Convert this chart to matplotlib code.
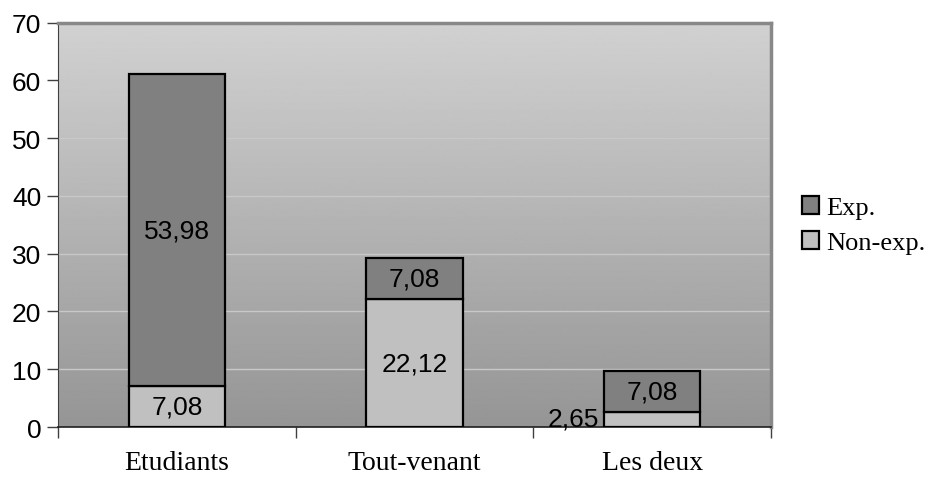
import numpy as np
import matplotlib.pyplot as plt

categories = ['Etudiants', 'Tout-venant', 'Les deux']
non_exp = [7.08, 22.12, 2.65]
exp = [53.98, 7.08, 7.08]
non_exp_labels = ['7,08', '22,12', '2,65']
exp_labels = ['53,98', '7,08', '7,08']
yticks = [0, 10, 20, 30, 40, 50, 60, 70]

fig = plt.figure(figsize=(9.29, 4.81), dpi=100)
ax = fig.add_axes([58 / 929, 1 - 428 / 481, (771 - 58) / 929, (428 - 23.5) / 481])

x = np.arange(len(categories))
ax.set_xlim(-0.5, 2.5)
ax.set_ylim(0, 70)

# gradient background, light at top, darker at bottom
grad = np.linspace(0.82, 0.585, 256).reshape(-1, 1)
ax.imshow(grad, cmap='gray', vmin=0, vmax=1, aspect='auto',
          extent=[-0.5, 2.5, 0, 70], origin='upper', zorder=0)

for y in yticks[1:-1]:
    ax.axhline(y, color='#c8c8c8', lw=1.0, zorder=1)

w = 0.404
ax.bar(x, non_exp, w, color='#c0c0c0', edgecolor='black', lw=1.6, zorder=3, label='Non-exp.')
ax.bar(x, exp, w, bottom=non_exp, color='#808080', edgecolor='black', lw=1.6, zorder=3, label='Exp.')

fs = 19
for i in range(len(categories)):
    ax.text(x[i], non_exp[i] + exp[i] / 2, exp_labels[i], ha='center', va='center',
            fontsize=fs, family='Liberation Sans', zorder=4)
    if non_exp[i] > 5:
        ax.text(x[i], non_exp[i] / 2, non_exp_labels[i], ha='center', va='center',
                fontsize=fs, family='Liberation Sans', zorder=4)
    else:
        ax.text(x[i] - w / 2 - 0.02, non_exp[i] / 2 + 0.1, non_exp_labels[i], ha='right',
                va='center', fontsize=fs, family='Liberation Sans', zorder=4)

ax.set_yticks(yticks)
ax.set_yticklabels([str(v) for v in yticks], fontsize=19, family='Liberation Sans')
ax.set_xticks([-0.5, 0.5, 1.5, 2.5])
ax.set_xticklabels([])
ax.tick_params(axis='y', length=8, width=1, color='#404040', pad=4)
ax.tick_params(axis='x', length=8, width=1, color='#404040', direction='out')
for i, c in enumerate(categories):
    ax.text(x[i], -0.087, c, transform=ax.get_xaxis_transform(), ha='center', va='center',
            fontsize=20, family='Liberation Serif')

ax.spines['left'].set_color('#404040')
ax.spines['bottom'].set_color('#202020')
ax.spines['bottom'].set_linewidth(1.2)
ax.spines['top'].set_color('#888888')
ax.spines['top'].set_linewidth(2.5)
ax.spines['right'].set_color('#888888')
ax.spines['right'].set_linewidth(2.5)

handles, labels = ax.get_legend_handles_labels()
leg = fig.legend(handles[::-1], labels[::-1], loc='center left',
                 bbox_to_anchor=(802 / 929, 1 - 226 / 481), frameon=False,
                 prop={'family': 'Liberation Serif', 'size': 19},
                 handlelength=0.65, handleheight=0.65, handletextpad=0.27,
                 labelspacing=0.45, borderpad=0, borderaxespad=0)

fig.savefig('out.png', dpi=100)
